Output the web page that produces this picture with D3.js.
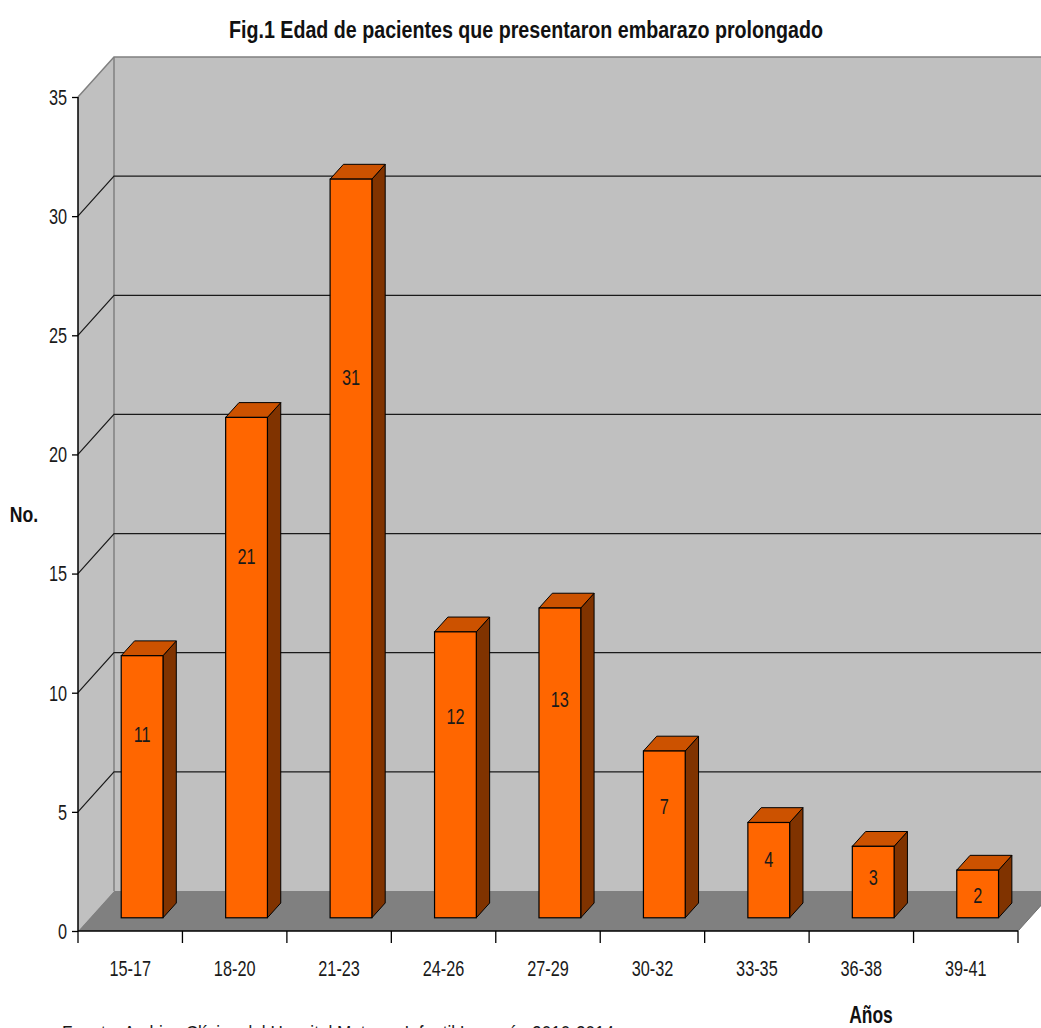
<!DOCTYPE html>
<html>
<head>
<meta charset="utf-8">
<script src="https://cdn.jsdelivr.net/npm/d3@7"></script>
<style>
  html, body { margin: 0; padding: 0; background: #ffffff; }
  svg { display: block; }
  text { font-family: "Liberation Sans", Arial, sans-serif; }
</style>
</head>
<body>
<svg id="chart" width="1041" height="1028"></svg>
<script>
// Age groups and number of patients
const categories = ["15-17", "18-20", "21-23", "24-26", "27-29", "30-32", "33-35", "36-38", "39-41"];
const values = [11, 21, 31, 12, 13, 7, 4, 3, 2];
const yTicks = [0, 5, 10, 15, 20, 25, 30, 35];

const titleText = "Fig.1 Edad de pacientes que presentaron embarazo prolongado";
const yTitle = "No.";
const xTitle = "Años";
const sourceText = "Fuente: Archivo Clínico del Hospital Materno Infantil Inguarán 2010-2014";

const svg = d3.select("#chart");

// Front plane of the 3D box
const plotLeft = 78, plotRight = 1018, plotBottom = 931, plotTop = 97;
// Depth vector (full depth of the floor / side wall)
const DX = 36, DY = -40;

const x = d3.scaleBand().domain(categories).range([plotLeft, plotRight]).paddingInner(0).paddingOuter(0);
const y = d3.scaleLinear().domain([0, 35]).range([plotBottom, plotTop]);

// project a point from the front plane (px, value) at depth z (0 = front, 1 = back wall)
const P = (px, v, z) => [px + DX * z, y(v) + DY * z];
const poly = pts => pts.map(p => p.join(",")).join(" ");

// condensed text: horizontally squeezed glyphs
const SX = 0.74;
function narrowText(parent, tx, ty, str, opts = {}) {
  const grp = parent.append("g").attr("transform", `translate(${tx},${ty}) scale(${opts.sx || SX},1)`);
  return grp.append("text")
    .attr("x", 0).attr("y", 0)
    .attr("text-anchor", opts.anchor || "middle")
    .attr("dy", opts.dy || null)
    .attr("font-size", opts.size || 22)
    .attr("font-weight", opts.weight || "normal")
    .attr("fill", opts.fill || "#1a1a1a")
    .text(str);
}

const g = svg.append("g");
const farX = plotRight + 40;

// Back wall
g.append("polygon")
  .attr("points", poly([P(plotLeft, 35, 1), P(farX, 35, 1), P(farX, 0, 1), P(plotLeft, 0, 1)]))
  .attr("fill", "#c0c0c0");
// Side wall
g.append("polygon")
  .attr("points", poly([P(plotLeft, 35, 0), P(plotLeft, 35, 1), P(plotLeft, 0, 1), P(plotLeft, 0, 0)]))
  .attr("fill", "#c0c0c0");
// Floor
g.append("polygon")
  .attr("points", poly([P(plotLeft, 0, 0), P(plotLeft, 0, 1), P(plotRight, 0, 1), P(plotRight, 0, 0)]))
  .attr("fill", "#808080");

// Wall outline
g.append("polyline")
  .attr("points", poly([P(plotLeft, 35, 0), P(plotLeft, 35, 1), P(farX, 35, 1)]))
  .attr("fill", "none").attr("stroke", "#808080").attr("stroke-width", 1.5);
g.append("line")
  .attr("x1", P(plotLeft, 35, 1)[0]).attr("y1", P(plotLeft, 35, 1)[1])
  .attr("x2", P(plotLeft, 0, 1)[0]).attr("y2", P(plotLeft, 0, 1)[1])
  .attr("stroke", "#808080").attr("stroke-width", 1.5);
g.append("line")
  .attr("x1", P(plotRight, 0, 0)[0]).attr("y1", P(plotRight, 0, 0)[1])
  .attr("x2", P(plotRight, 0, 1)[0]).attr("y2", P(plotRight, 0, 1)[1])
  .attr("stroke", "#6e6e6e").attr("stroke-width", 1);

// Gridlines on side wall and back wall
yTicks.filter(t => t > 0 && t < 35).forEach(t => {
  g.append("polyline")
    .attr("points", poly([P(plotLeft, t, 0), P(plotLeft, t, 1), P(farX, t, 1)]))
    .attr("fill", "none").attr("stroke", "#1a1a1a").attr("stroke-width", 1.2);
});

// Bars (3D prisms)
const barW = x.bandwidth() * 0.4;
const z0 = 0.33, z1 = 0.70;
const colFront = "#ff6600", colTop = "#cc5200", colSide = "#803300";

const bars = g.selectAll("g.bar").data(categories.map((c, i) => ({ c, v: values[i] })))
  .enter().append("g").attr("class", "bar");

bars.each(function(d) {
  const sel = d3.select(this);
  const xa = x(d.c) + (x.bandwidth() - barW) / 2;
  const xb = xa + barW;
  // side face
  sel.append("polygon")
    .attr("points", poly([P(xb, 0, z0), P(xb, d.v, z0), P(xb, d.v, z1), P(xb, 0, z1)]))
    .attr("fill", colSide).attr("stroke", "#000").attr("stroke-width", 1).attr("stroke-linejoin", "round");
  // top face
  sel.append("polygon")
    .attr("points", poly([P(xa, d.v, z0), P(xb, d.v, z0), P(xb, d.v, z1), P(xa, d.v, z1)]))
    .attr("fill", colTop).attr("stroke", "#000").attr("stroke-width", 1).attr("stroke-linejoin", "round");
  // front face
  const f0 = P(xa, d.v, z0), f1 = P(xb, 0, z0);
  sel.append("rect")
    .attr("x", f0[0]).attr("y", f0[1])
    .attr("width", f1[0] - f0[0]).attr("height", f1[1] - f0[1])
    .attr("fill", colFront).attr("stroke", "#000").attr("stroke-width", 1.2);
  // value label
  narrowText(sel, (f0[0] + f1[0]) / 2, y(d.v * 0.75), d.v, { dy: "0.36em", size: 22 });
});

// Y axis
const yAxis = d3.axisLeft(y).tickValues(yTicks).tickSize(6).tickFormat(() => "");
const yAxisG = svg.append("g").attr("transform", `translate(${plotLeft},0)`).call(yAxis);
yAxisG.select(".domain").attr("stroke", "#000").attr("stroke-width", 1.5).attr("d", `M0,${plotTop}V${plotBottom}`);
yAxisG.selectAll(".tick line").attr("stroke", "#000").attr("stroke-width", 1.3);
yTicks.forEach(t => {
  narrowText(svg, plotLeft - 11, y(t), t, { anchor: "end", dy: "0.36em", size: 22 });
});

// X axis: ticks between categories
const xAxisG = svg.append("g").attr("transform", `translate(0,${plotBottom})`);
xAxisG.append("line").attr("x1", plotLeft).attr("x2", plotRight).attr("y1", 0).attr("y2", 0)
  .attr("stroke", "#000").attr("stroke-width", 1.5);
const tickXs = categories.map(c => x(c)).concat([plotRight]);
xAxisG.selectAll("line.tk").data(tickXs).enter().append("line").attr("class", "tk")
  .attr("x1", d => d).attr("x2", d => d).attr("y1", 0).attr("y2", 12)
  .attr("stroke", "#000").attr("stroke-width", 1.3);
categories.forEach(c => {
  narrowText(xAxisG, x(c) + x.bandwidth() / 2, 45, c, { size: 22 });
});

// Titles
svg.append("text")
  .attr("x", 526).attr("y", 38)
  .attr("text-anchor", "middle")
  .attr("font-size", 23).attr("font-weight", "bold").attr("fill", "#111")
  .attr("textLength", 594).attr("lengthAdjust", "spacingAndGlyphs")
  .text(titleText);

narrowText(svg, 24, 522, yTitle, { size: 22, weight: "bold", fill: "#111", sx: 0.8 });
narrowText(svg, 871, 1023, xTitle, { size: 23, weight: "bold", fill: "#111", sx: 0.76 });

svg.append("text")
  .attr("x", 62).attr("y", 1040)
  .attr("font-size", 21).attr("fill", "#1a1a1a")
  .attr("textLength", 552).attr("lengthAdjust", "spacingAndGlyphs")
  .text(sourceText);
</script>
</body>
</html>
